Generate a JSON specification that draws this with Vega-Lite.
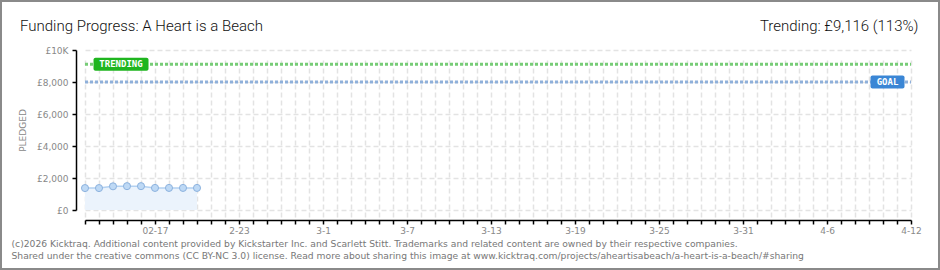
{
  "$schema": "https://vega.github.io/schema/vega-lite/v6.json",
  "width": 940,
  "height": 270,
  "padding": 0,
  "autosize": {"type": "none"},
  "background": "white",
  "config": {
    "view": {"stroke": "#8a8a8a", "strokeWidth": 4},
    "font": "Roboto"
  },
  "title": {
    "text": "Funding Progress: A Heart is a Beach",
    "anchor": "start",
    "frame": "group",
    "offset": 0,
    "dx": 20,
    "dy": 46,
    "baseline": "alphabetic",
    "font": "Roboto",
    "fontSize": 15,
    "fontWeight": 300,
    "color": "#111111"
  },
  "datasets": {
    "pledges": [
      {"date": "2026-02-12", "pledged": 1370},
      {"date": "2026-02-13", "pledged": 1370},
      {"date": "2026-02-14", "pledged": 1480},
      {"date": "2026-02-15", "pledged": 1490},
      {"date": "2026-02-16", "pledged": 1490},
      {"date": "2026-02-17", "pledged": 1380},
      {"date": "2026-02-18", "pledged": 1380},
      {"date": "2026-02-19", "pledged": 1380},
      {"date": "2026-02-20", "pledged": 1380}
    ],
    "targets": [
      {"label": "TRENDING", "amount": 9116},
      {"label": "GOAL", "amount": 8000}
    ]
  },
  "resolve": {"axis": {"x": "independent"}},
  "layer": [
    {
      "data": {"name": "pledges"},
      "mark": {"type": "area", "color": "#ebf3fc"},
      "encoding": {
        "x": {
          "field": "date",
          "type": "temporal",
          "scale": {
            "type": "utc",
            "domain": [
              {"year": 2026, "month": 2, "date": 12, "utc": true},
              {"year": 2026, "month": 4, "date": 12, "utc": true}
            ],
            "range": [85, 911]
          },
          "axis": {
            "orient": "bottom",
            "offset": -50,
            "tickCount": {"interval": "day", "step": 1},
            "grid": true,
            "gridColor": "#e3e3e3",
            "gridDash": [5, 3],
            "gridWidth": 1.5,
            "domainColor": "black",
            "domainWidth": 1.5,
            "tickColor": "black",
            "tickSize": 4,
            "tickWidth": 1.5,
            "labelExpr": "(round((datum.value - utc(2026,1,17))/86400000) % 6 == 0) ? (round((datum.value - utc(2026,1,17))/86400000) == 0 ? '02-17' : (utcmonth(datum.value)+1) + '-' + utcdate(datum.value)) : ''",
            "labelFont": "DejaVu Sans",
            "labelFontSize": 9,
            "labelColor": "#888888",
            "labelPadding": 2,
            "labelFlush": false,
            "labelOverlap": false,
            "labelBound": false,
            "title": [
              "(c)2026 Kicktraq. Additional content provided by Kickstarter Inc. and Scarlett Stitt. Trademarks and related content are owned by their respective companies.",
              "Shared under the creative commons (CC BY-NC 3.0) license. Read more about sharing this image at www.kicktraq.com/projects/aheartisabeach/a-heart-is-a-beach/#sharing"
            ],
            "titleX": 11,
            "titleY": 26.5,
            "titleAlign": "left",
            "titleBaseline": "alphabetic",
            "titleFont": "DejaVu Sans",
            "titleFontSize": 9.2,
            "titleFontWeight": "normal",
            "titleColor": "#777777",
            "titleLineHeight": 11.5
          }
        },
        "y": {
          "field": "pledged",
          "type": "quantitative",
          "scale": {"domain": [0, 10000], "range": [210, 50], "nice": false},
          "axis": {
            "orient": "left",
            "offset": -76,
            "values": [0, 1000, 2000, 3000, 4000, 5000, 6000, 7000, 8000, 9000, 10000],
            "grid": true,
            "gridColor": "#e3e3e3",
            "gridDash": [5, 3],
            "gridWidth": 1.5,
            "gridOpacity": {"condition": {"test": "datum.value % 2000 != 0", "value": 0}, "value": 1},
            "tickColor": {"condition": {"test": "datum.value % 2000 != 0", "value": "#e00000"}, "value": "black"},
            "tickSize": 4,
            "tickWidth": 1.5,
            "domainColor": "black",
            "domainWidth": 1.5,
            "labelExpr": "datum.value % 2000 != 0 ? '' : (datum.value == 10000 ? '£10K' : '£' + format(datum.value, ','))",
            "labelFont": "DejaVu Sans",
            "labelFontSize": 9,
            "labelColor": "#888888",
            "labelPadding": 4,
            "labelOverlap": false,
            "title": "PLEDGED",
            "titleX": -54,
            "titleY": 130,
            "titleAngle": -90,
            "titleAlign": "center",
            "titleBaseline": "middle",
            "titleFont": "DejaVu Sans",
            "titleFontSize": 9,
            "titleFontWeight": "normal",
            "titleColor": "#888888"
          }
        }
      }
    },
    {
      "data": {"name": "pledges"},
      "mark": {"type": "line", "color": "#b3d1f1", "strokeWidth": 1.5},
      "encoding": {
        "x": {"field": "date", "type": "temporal", "axis": null},
        "y": {"field": "pledged", "type": "quantitative"}
      }
    },
    {
      "data": {"name": "pledges"},
      "mark": {"type": "point", "filled": true, "size": 50, "fill": "#bed9f5", "stroke": "#8cb2de", "strokeWidth": 1, "opacity": 1},
      "encoding": {
        "x": {"field": "date", "type": "temporal", "axis": null},
        "y": {"field": "pledged", "type": "quantitative"}
      }
    },
    {
      "data": {"name": "targets"},
      "transform": [{"filter": "datum.label == 'GOAL'"}],
      "mark": {"type": "rule", "color": "#8fb0da", "strokeWidth": 3, "strokeDash": [3, 2]},
      "encoding": {
        "x": {"datum": {"year": 2026, "month": 2, "date": 12, "utc": true}, "type": "temporal", "axis": null},
        "x2": {"datum": {"year": 2026, "month": 4, "date": 12, "utc": true}},
        "y": {"field": "amount", "type": "quantitative"}
      }
    },
    {
      "data": {"name": "targets"},
      "transform": [{"filter": "datum.label == 'TRENDING'"}],
      "mark": {"type": "rule", "color": "#77cc77", "strokeWidth": 3, "strokeDash": [3, 2]},
      "encoding": {
        "x": {
          "datum": {"year": 2026, "month": 2, "date": 12, "utc": true},
          "type": "temporal",
          "axis": {
            "orient": "top",
            "domain": false,
            "ticks": false,
            "labels": false,
            "grid": false,
            "title": "Trending:  £9,116 (113%)",
            "titleX": 918,
            "titleY": 30,
            "titleAlign": "right",
            "titleBaseline": "alphabetic",
            "titleFont": "Roboto",
            "titleFontSize": 15,
            "titleFontWeight": 300,
            "titleColor": "#111111"
          }
        },
        "x2": {"datum": {"year": 2026, "month": 4, "date": 12, "utc": true}},
        "y": {"field": "amount", "type": "quantitative"}
      }
    },
    {
      "data": {"name": "targets"},
      "transform": [{"filter": "datum.label == 'TRENDING'"}],
      "mark": {"type": "rect", "width": 55, "height": 13, "color": "#1fb51f", "cornerRadius": 2},
      "encoding": {
        "x": {"datum": {"year": 2026, "month": 2, "date": 14, "hours": 13, "minutes": 45, "utc": true}, "type": "temporal", "axis": null},
        "y": {"field": "amount", "type": "quantitative"}
      }
    },
    {
      "data": {"name": "targets"},
      "transform": [{"filter": "datum.label == 'TRENDING'"}],
      "mark": {"type": "text", "color": "white", "font": "DejaVu Sans Mono", "fontSize": 9, "fontWeight": "bold", "align": "center", "baseline": "middle"},
      "encoding": {
        "x": {"datum": {"year": 2026, "month": 2, "date": 14, "hours": 13, "minutes": 45, "utc": true}, "type": "temporal", "axis": null},
        "y": {"field": "amount", "type": "quantitative"},
        "text": {"field": "label"}
      }
    },
    {
      "data": {"name": "targets"},
      "transform": [{"filter": "datum.label == 'GOAL'"}],
      "mark": {"type": "rect", "width": 34, "height": 13, "color": "#3a86d5", "cornerRadius": 2},
      "encoding": {
        "x": {"datum": {"year": 2026, "month": 4, "date": 10, "hours": 7, "minutes": 45, "utc": true}, "type": "temporal", "axis": null},
        "y": {"field": "amount", "type": "quantitative"}
      }
    },
    {
      "data": {"name": "targets"},
      "transform": [{"filter": "datum.label == 'GOAL'"}],
      "mark": {"type": "text", "color": "white", "font": "DejaVu Sans Mono", "fontSize": 9, "fontWeight": "bold", "align": "center", "baseline": "middle"},
      "encoding": {
        "x": {"datum": {"year": 2026, "month": 4, "date": 10, "hours": 7, "minutes": 45, "utc": true}, "type": "temporal", "axis": null},
        "y": {"field": "amount", "type": "quantitative"},
        "text": {"field": "label"}
      }
    }
  ]
}
